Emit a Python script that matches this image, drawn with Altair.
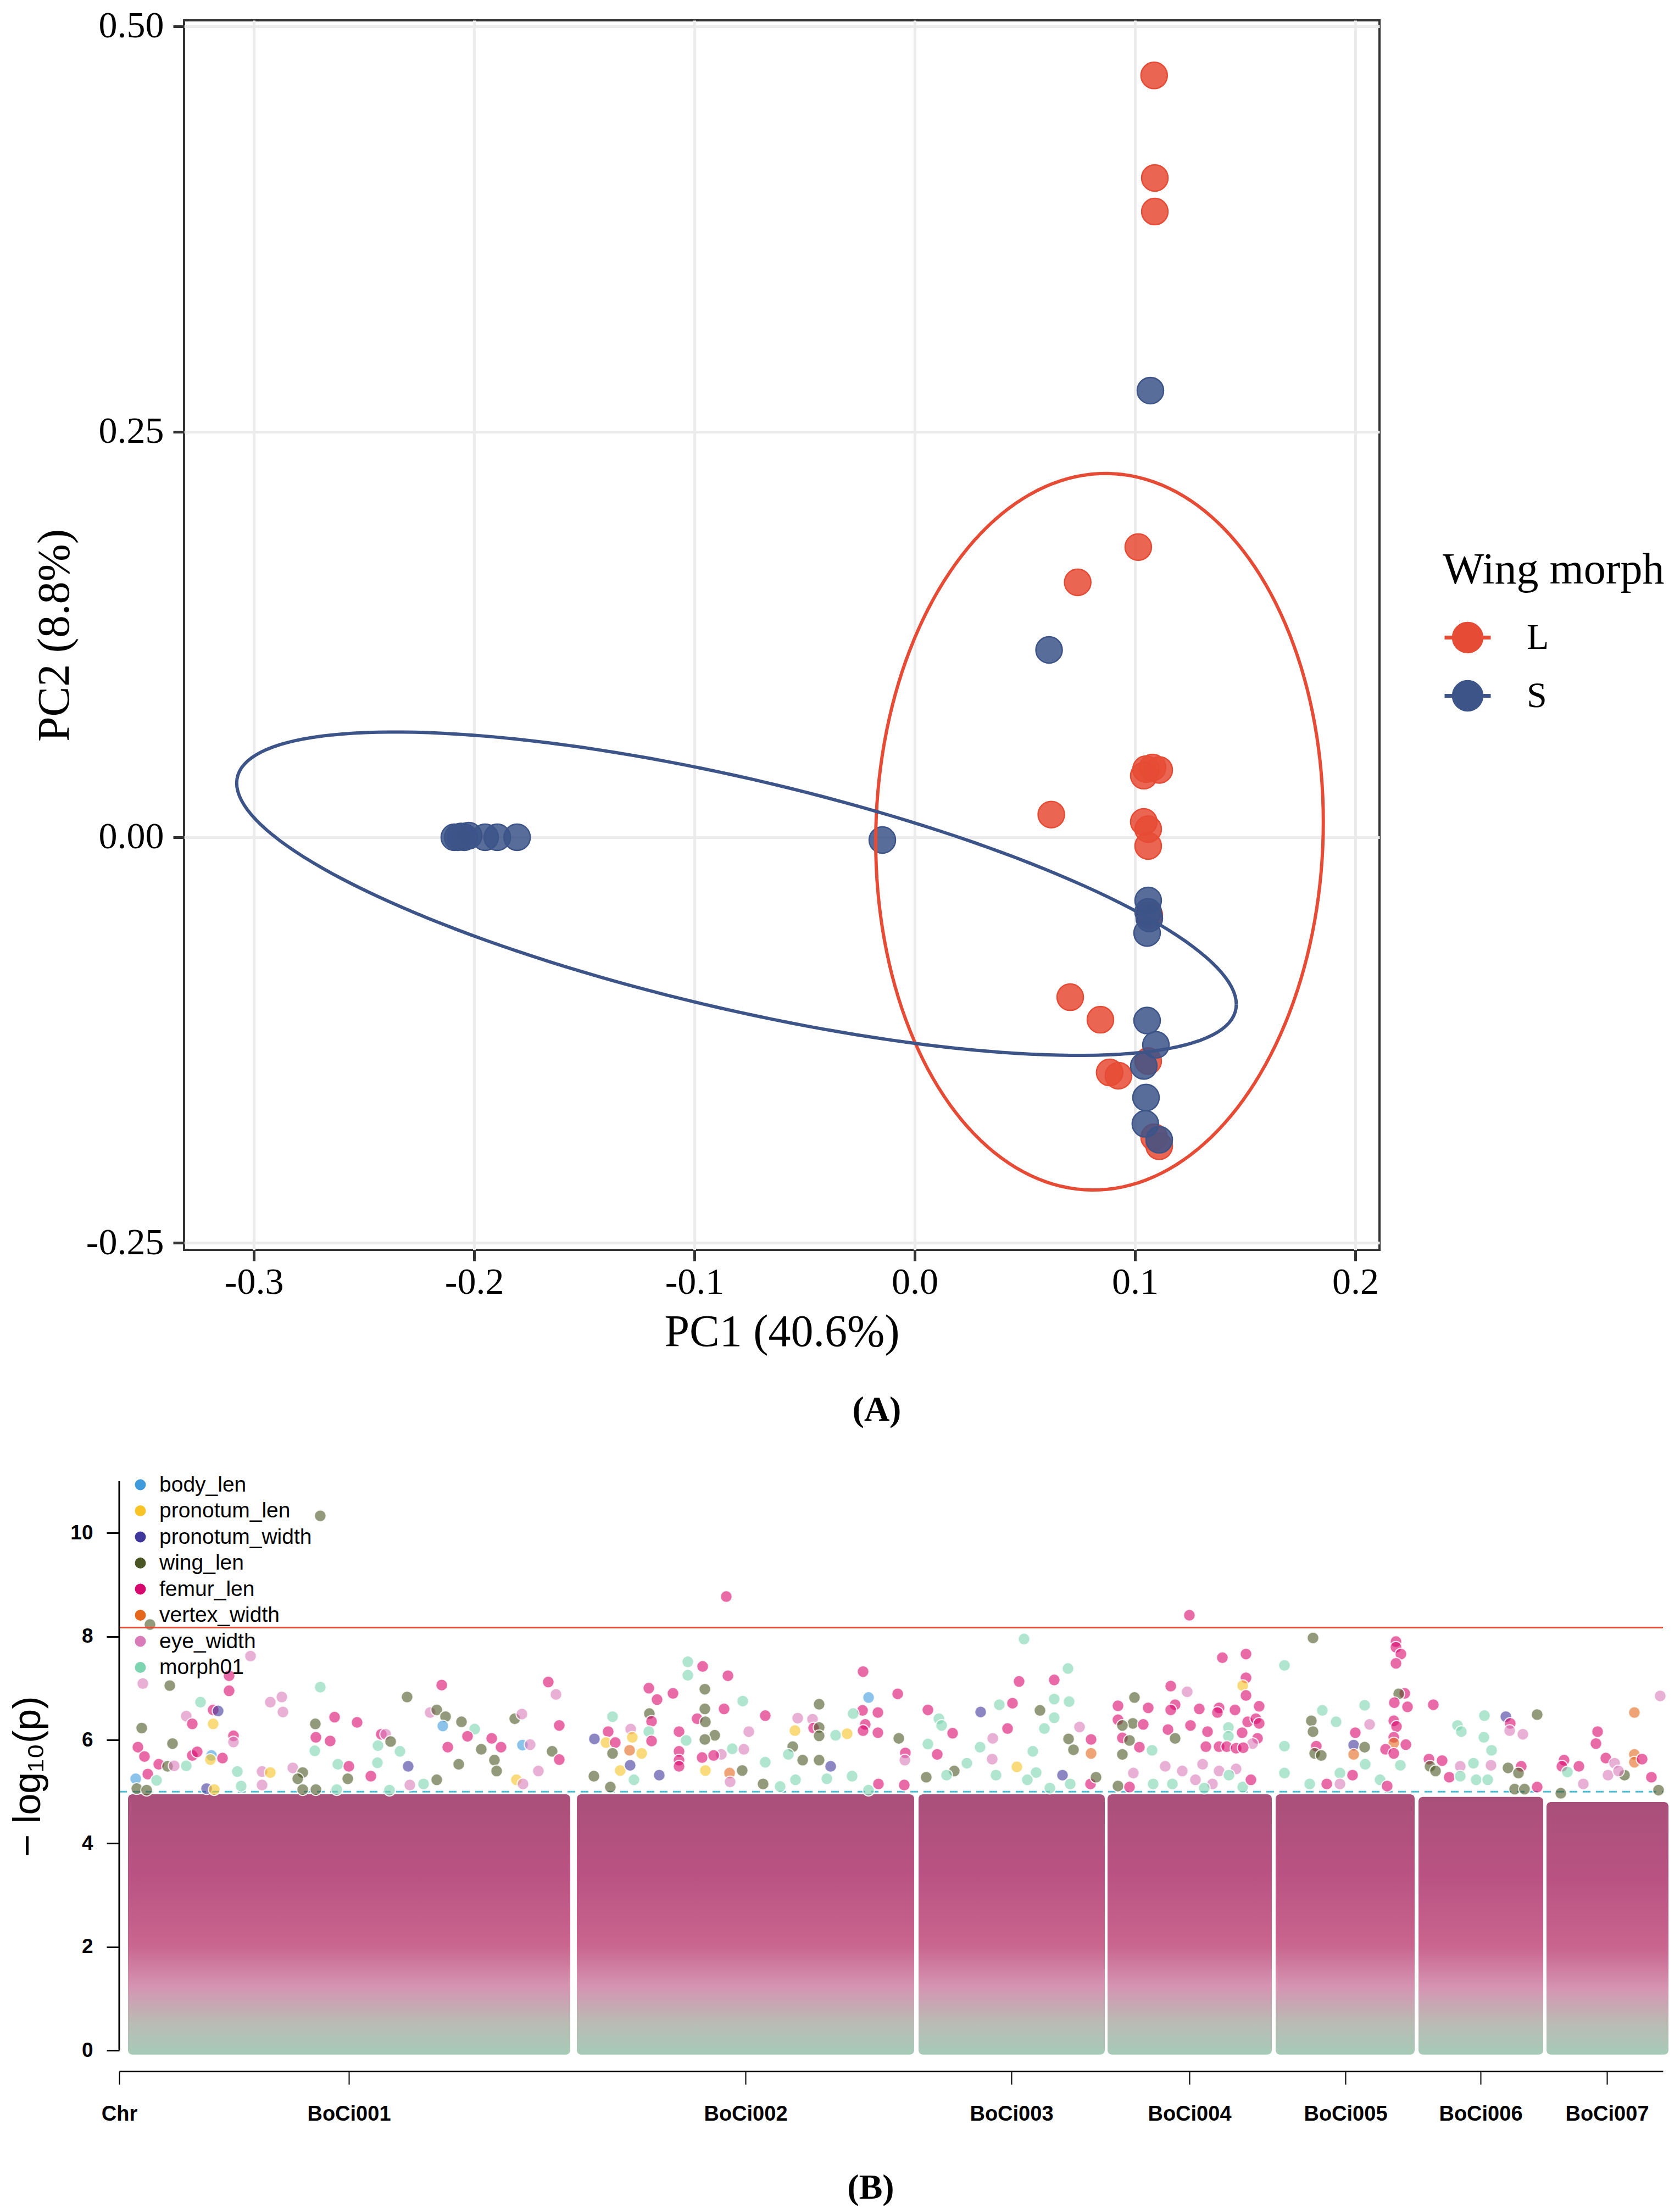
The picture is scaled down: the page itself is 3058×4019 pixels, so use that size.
import numpy as np
import pandas as pd
import altair as alt

SERIF = "Liberation Serif"
SANS = "Liberation Sans"

# ---------------- panel A : PCA ----------------
morph_levels = ["L", "S"]
morph_colors = ["#E64B35", "#3C5488"]

L_pc1 = [0.1087, 0.109, 0.109, 0.1015, 0.074, 0.104, 0.105, 0.108, 0.111, 0.062, 0.104,
         0.106, 0.106, 0.1065, 0.0706, 0.0843, 0.106, 0.0885, 0.0925, 0.1087, 0.111]
L_pc2 = [0.4697, 0.4065, 0.3858, 0.1789, 0.1572, 0.038, 0.042, 0.043, 0.0415, 0.014, 0.0095,
         0.005, -0.0054, -0.048, -0.0986, -0.1125, -0.138, -0.145, -0.147, -0.185, -0.1905]
S_pc1 = [0.107, 0.061, -0.0147, -0.209, -0.2075, -0.206, -0.2045, -0.2025, -0.195, -0.1895,
         -0.1805, 0.106, 0.106, 0.1065, 0.1055, 0.1055, 0.1095, 0.104, 0.105, 0.1047, 0.111]
S_pc2 = [0.2754, 0.1155, -0.0017, 0.0, 0.0, 0.0005, 0.0, 0.001, 0.0, 0.0, 0.0, -0.039,
         -0.046, -0.05, -0.059, -0.113, -0.128, -0.141, -0.1605, -0.1767, -0.1865]

# ellipse outlines: centre, half range in x / y,
# and the y shift at the rightmost point (this gives the tilt)
ell_cx = [0.0839, -0.0809]
ell_cy = [0.0034, -0.0348]
ell_rx = [0.1016, 0.2269]
ell_ry = [0.2209, 0.0997]
ell_ky = [0.0061, -0.0682]

pca_df = pd.DataFrame({
    "pc1": L_pc1 + S_pc1,
    "pc2": L_pc2 + S_pc2,
    "morph": ["L"] * len(L_pc1) + ["S"] * len(S_pc1),
})

t = np.linspace(0, 2 * np.pi, 181)
rows = []
for m, cx, cy, rx, ry, ky in zip(morph_levels, ell_cx, ell_cy, ell_rx, ell_ry, ell_ky):
    for i, a in enumerate(t):
        rows.append({
            "morph": m,
            "idx": i,
            "pc1": cx + rx * np.cos(a),
            "pc2": cy + ky * np.cos(a) + np.sqrt(ry ** 2 - ky ** 2) * np.sin(a),
        })
ell_df = pd.DataFrame(rows)

minus_fix = "replace(datum.label, '\u2212', '-')"

pca_x = alt.X(
    "pc1:Q",
    scale=alt.Scale(domain=[-0.3317, 0.211], nice=False, zero=False),
    axis=alt.Axis(
        title="PC1 (40.6%)",
        values=[-0.3, -0.2, -0.1, 0.0, 0.1, 0.2],
        format=".1f",
        labelExpr=minus_fix,
        labelFont=SERIF, labelFontSize=68, labelColor="black", labelPadding=5,
        titleFont=SERIF, titleFontSize=82, titleFontWeight="normal",
        titleColor="black", titlePadding=16,
        tickSize=20, tickWidth=5, tickColor="#333333",
        domain=False, grid=True, gridColor="#EBEBEB", gridWidth=5,
        labelFlush=False, labelOverlap=False,
    ),
)
pca_y = alt.Y(
    "pc2:Q",
    scale=alt.Scale(domain=[-0.2544, 0.5037], nice=False, zero=False),
    axis=alt.Axis(
        title="PC2 (8.8%)",
        values=[-0.25, 0.0, 0.25, 0.5],
        format=".2f",
        labelExpr=minus_fix,
        labelFont=SERIF, labelFontSize=68, labelColor="black", labelPadding=17,
        titleFont=SERIF, titleFontSize=82, titleFontWeight="normal",
        titleColor="black", titlePadding=15,
        tickSize=20, tickWidth=5, tickColor="#333333",
        domain=False, grid=True, gridColor="#EBEBEB", gridWidth=5,
        labelFlush=False, labelOverlap=False,
    ),
)

key_path = "M-1,0L1,0M0.6,0A0.6,0.6,0,1,1,-0.6,0A0.6,0.6,0,1,1,0.6,0Z"
legend_pca = alt.Legend(
    title="Wing morph", orient="none", legendX=2291, legendY=962,
    titleFont=SERIF, titleFontSize=80, titleFontWeight="normal", titleColor="black",
    titleLimit=2000, labelLimit=1000,
    labelFont=SERIF, labelFontSize=66, labelColor="black",
    symbolType=key_path, symbolSize=7056, symbolStrokeWidth=7,
    rowPadding=21, titlePadding=36, labelOffset=62, padding=0,
)
morph_scale = alt.Scale(domain=morph_levels, range=morph_colors)

pca_points = alt.Chart(pca_df).mark_point(
    filled=True, size=2304, opacity=1, fillOpacity=0.85, strokeWidth=2.5
).encode(
    x=pca_x,
    y=pca_y,
    fill=alt.Fill("morph:N", scale=morph_scale, legend=legend_pca),
    stroke=alt.Stroke("morph:N", scale=morph_scale, legend=legend_pca),
)

pca_ell = alt.Chart(ell_df).mark_line(strokeWidth=6).encode(
    x=pca_x,
    y=pca_y,
    color=alt.Color("morph:N", scale=morph_scale, legend=None),
    detail="morph:N",
    order="idx:Q",
)

pca = alt.layer(pca_points, pca_ell).properties(
    width=2176,
    height=2238,
    view=alt.ViewBackground(stroke="#333333", strokeWidth=4),
    title=alt.TitleParams(
        "(A)", orient="bottom", anchor="middle", dx=173, offset=70,
        font=SERIF, fontSize=64, fontWeight="bold", color="black",
    ),
)


def spacer(w):
    # empty strip that only moves the panel next to it to the right
    return alt.Chart(pd.DataFrame({"v": [0]})).mark_point(opacity=0, size=0).encode(
        x=alt.value(0), y=alt.value(0)
    ).properties(width=w, height=10)


# ---------------- panel B : Manhattan ----------------
trait_names = ["body_len", "pronotum_len", "pronotum_width", "wing_len",
               "femur_len", "vertex_width", "eye_width", "morph01"]
trait_codes = ["B", "PL", "PW", "W", "F", "V", "E", "M"]
trait_colors = ["#3F9BDC", "#F7C325", "#40379A", "#4B5523",
                "#D8096E", "#E5671C", "#D97BB9", "#7CD4B0"]

chr_names = ["BoCi001", "BoCi002", "BoCi003", "BoCi004", "BoCi005", "BoCi006", "BoCi007"]
chr_start = [8, 416.5, 727.5, 899.5, 1052.5, 1182.5, 1299]
chr_end = [410.5, 723.5, 897, 1049, 1179, 1296, 1410]
# upper edge of the dense (non significant) cloud of SNPs on each chromosome
band_top = [4.95, 4.95, 4.95, 4.95, 4.95, 4.9, 4.8]

suggestive_line = 5.0
genomewide_line = 8.17

# SNPs standing out above the cloud: (position, -log10 p, trait)
chr1_snps = [
    (183, 10.33, "W"), (28, 8.23, "W"), (119.5, 7.62, "E"), (21.5, 7.09, "E"), (46, 7.05, "W"),
    (100, 7.24, "F"), (100, 6.95, "F"), (183, 7.02, "M"), (74, 6.73, "M"), (137.5, 6.73, "E"),
    (148, 6.83, "E"), (149, 6.54, "E"), (85.5, 6.58, "F"), (90, 6.56, "PW"), (61, 6.46, "E"),
    (66.5, 6.31, "F"), (85.5, 6.31, "PL"), (20.5, 6.23, "W"), (178.5, 6.31, "W"), (196, 6.44, "F"),
    (216.5, 6.34, "F"), (104, 6.08, "F"), (104, 5.96, "E"), (48.5, 5.93, "W"), (17, 5.86, "F"),
    (23, 5.68, "F"), (179, 6.05, "F"), (192, 5.98, "F"), (178, 5.79, "M"), (66.5, 5.70, "F"),
    (71, 5.77, "F"), (84, 5.70, "B"), (83, 5.62, "PL"), (94, 5.65, "F"), (235.5, 5.89, "M"),
    (235, 5.56, "M"), (199, 5.53, "M"), (209, 5.49, "F"), (36, 5.53, "F"), (44, 5.49, "W"),
    (61, 5.50, "M"), (50, 5.50, "E"), (107.5, 5.39, "M"), (130, 5.39, "E"), (137.5, 5.37, "PL"),
    (158, 5.46, "E"), (167, 5.37, "W"), (26, 5.34, "F"), (162.5, 5.25, "W"), (208, 5.25, "W"),
    (229, 5.30, "F"), (15, 5.25, "B"), (34, 5.22, "M"), (16, 5.06, "W"), (25, 5.03, "W"),
    (79.5, 5.06, "PW"), (111, 5.11, "M"), (130, 5.13, "E"), (167, 5.04, "W"), (198, 5.04, "M"),
    (179, 5.04, "W"), (86.5, 5.04, "PL"),
    (262, 6.83, "W"), (293.5, 7.06, "F"), (390.5, 7.12, "F"), (397.5, 6.88, "E"), (283, 6.53, "E"),
    (289, 6.58, "W"), (297, 6.45, "W"), (294.5, 6.27, "B"), (311.5, 6.35, "W"), (323.5, 6.21, "M"),
    (360, 6.41, "W"), (366.5, 6.50, "E"), (400.5, 6.28, "F"), (317, 6.07, "F"), (339, 6.03, "F"),
    (238.5, 6.11, "F"), (242.5, 6.11, "E"), (247, 5.97, "W"), (255.5, 5.78, "M"), (299, 5.86, "F"),
    (329.5, 5.82, "W"), (347.5, 5.86, "F"), (367, 5.90, "B"), (374, 5.91, "E"), (394, 5.78, "W"),
    (400.5, 5.62, "F"), (263, 5.49, "PW"), (309, 5.53, "W"), (289, 5.23, "W"), (264.5, 5.13, "E"),
    (277, 5.15, "M"), (246, 5.03, "M"), (341.5, 5.61, "W"), (343.5, 5.40, "W"), (361.5, 5.23, "PL"),
    (381.5, 5.40, "E"), (367.5, 5.15, "E"),
]
chr2_snps = [
    (552.5, 8.77, "F"), (517.5, 7.51, "M"), (531, 7.42, "F"), (517.5, 7.25, "M"), (554, 7.24, "F"),
    (482, 7.00, "F"), (533, 6.98, "W"), (489.5, 6.78, "F"), (504, 6.90, "F"), (567.5, 6.75, "M"),
    (550.5, 6.60, "F"), (533, 6.60, "W"), (482.5, 6.51, "W"), (484.5, 6.36, "F"), (449, 6.45, "M"),
    (526, 6.41, "F"), (533.5, 6.35, "W"), (588, 6.47, "F"), (573, 6.16, "E"), (482, 6.16, "M"),
    (445, 6.16, "F"), (465.5, 6.21, "E"), (509.5, 6.16, "F"), (542, 6.09, "W"), (484.5, 5.98, "F"),
    (516, 5.99, "M"), (533, 6.01, "W"), (432.5, 6.02, "PW"), (443, 5.95, "PL"), (451.5, 5.95, "F"),
    (467, 6.05, "PL"), (509.5, 5.78, "F"), (509.5, 5.61, "F"), (509.5, 5.49, "F"), (530.5, 5.66, "F"),
    (558, 5.83, "M"), (568.5, 5.82, "E"), (464.5, 5.80, "V"), (449, 5.74, "W"), (475.5, 5.74, "PL"),
    (548, 5.72, "E"), (541, 5.70, "F"), (567, 5.41, "W"), (456, 5.41, "PL"), (465, 5.51, "PW"),
    (555.5, 5.36, "V"), (491.5, 5.32, "PW"), (533.5, 5.41, "PL"), (588, 5.57, "M"), (432, 5.30, "W"),
    (447, 5.09, "W"), (468.5, 5.23, "M"), (556, 5.19, "E"), (586, 5.15, "W"),
    (677, 7.32, "F"), (708.5, 6.89, "F"), (682, 6.82, "B"), (637, 6.69, "W"), (676.5, 6.57, "F"),
    (690.5, 6.53, "F"), (668, 6.51, "M"), (617.5, 6.42, "E"), (631, 6.40, "E"), (632, 6.23, "F"),
    (637, 6.24, "W"), (615, 6.18, "PL"), (637, 6.08, "W"), (679, 6.30, "F"), (677, 6.18, "F"),
    (690.5, 6.14, "F"), (652, 6.09, "M"), (662.5, 6.12, "PL"), (709.5, 6.03, "W"), (613, 5.87, "W"),
    (715.5, 5.75, "F"), (715, 5.61, "E"), (609, 5.72, "M"), (637, 5.61, "W"), (622, 5.61, "W"),
    (647.5, 5.49, "PW"), (601.5, 5.10, "M"), (615.5, 5.23, "M"), (644, 5.25, "M"), (667, 5.30, "M"),
    (682, 5.03, "M"), (691, 5.15, "F"), (714.5, 5.13, "F"),
]
chr3_snps = [
    (823.5, 7.95, "M"), (863.5, 7.38, "M"), (819, 7.13, "F"), (851, 7.16, "F"), (736, 6.58, "F"),
    (801, 6.68, "M"), (813, 6.71, "F"), (784, 6.54, "PW"), (838, 6.57, "W"), (851, 6.79, "M"),
    (864.5, 6.74, "M"), (746, 6.41, "M"), (748.5, 6.28, "M"), (758.5, 6.13, "F"), (808.5, 6.22, "F"),
    (874, 6.25, "E"), (851, 6.43, "M"), (842, 6.22, "M"), (795, 6.03, "E"), (884.5, 6.01, "F"),
    (736, 5.92, "M"), (744.5, 5.72, "F"), (864, 6.02, "W"), (868.5, 5.81, "W"), (783.5, 5.86, "M"),
    (831.5, 5.78, "M"), (884.5, 5.74, "V"), (794.5, 5.63, "E"), (817, 5.48, "PL"), (834.5, 5.37, "M"),
    (858.5, 5.32, "PW"), (760, 5.40, "W"), (734.5, 5.28, "W"), (753, 5.32, "M"), (771.5, 5.55, "M"),
    (798, 5.32, "M"), (826.5, 5.23, "M"), (847, 5.07, "M"), (865.5, 5.15, "M"), (884, 5.15, "F"),
    (889, 5.28, "W"),
]
chr4_snps = [
    (924, 6.82, "W"), (909, 6.66, "F"), (936.5, 6.62, "F"), (909, 6.39, "F"), (922.5, 6.32, "W"),
    (932, 6.30, "F"), (913, 6.04, "F"), (913, 6.28, "W"), (919.5, 5.99, "W"), (928.5, 5.86, "F"),
    (940, 5.80, "M"), (913, 5.72, "W"), (941, 5.15, "M"), (923, 5.36, "E"), (909, 5.11, "W"),
    (919.5, 5.09, "F"),
    (974, 8.41, "F"), (1004, 7.59, "F"), (1025.5, 7.66, "F"), (1025.5, 7.20, "F"), (1022.5, 7.05, "PL"),
    (1025.5, 6.86, "F"), (957, 7.04, "F"), (972, 6.93, "E"), (961, 6.68, "F"), (957, 6.58, "F"),
    (983, 6.60, "F"), (1001, 6.62, "F"), (999.5, 6.53, "F"), (1015.5, 6.58, "F"), (1037.5, 6.65, "F"),
    (1027, 6.35, "F"), (1034.5, 6.41, "F"), (1037.5, 6.32, "F"), (975, 6.28, "F"), (954.5, 6.20, "F"),
    (1009.5, 6.24, "M"), (1009.5, 6.07, "M"), (990.5, 6.16, "F"), (1022, 6.14, "F"), (961, 6.03, "W"),
    (1036, 6.03, "F"), (1031.5, 5.93, "E"), (989, 5.87, "F"), (1001, 5.87, "F"), (1008, 5.87, "F"),
    (1016.5, 5.84, "F"), (1023, 5.85, "F"), (952, 5.49, "E"), (967.5, 5.40, "E"), (986, 5.53, "E"),
    (1001, 5.40, "E"), (1016.5, 5.44, "E"), (979.5, 5.23, "E"), (995, 5.15, "E"), (1010, 5.32, "M"),
    (958.5, 5.15, "M"), (987.5, 5.07, "M"), (1022.5, 5.09, "M"), (1030, 5.23, "F"),
]
chr5_snps = [
    (1086.5, 7.97, "W"), (1162, 7.90, "F"), (1162, 7.79, "F"), (1166.5, 7.66, "F"), (1162, 7.48, "F"),
    (1060.5, 7.44, "M"), (1170, 6.90, "F"), (1164.5, 6.89, "W"), (1160.5, 6.72, "F"), (1172.5, 6.64, "F"),
    (1133.5, 6.67, "M"), (1095, 6.57, "M"), (1085, 6.37, "W"), (1107.5, 6.35, "M"), (1160, 6.37, "F"),
    (1162.5, 6.26, "F"), (1086.5, 6.16, "W"), (1125, 6.14, "F"), (1138, 6.30, "E"), (1160, 6.05, "F"),
    (1171, 5.91, "F"), (1060.5, 5.88, "M"), (1089.5, 5.88, "F"), (1123.5, 5.90, "PW"), (1133.5, 5.86, "W"),
    (1123.5, 5.72, "V"), (1160, 5.94, "V"), (1152.5, 5.82, "F"), (1160, 5.74, "F"), (1088, 5.74, "W"),
    (1094, 5.70, "W"), (1122.5, 5.32, "F"), (1060.5, 5.36, "M"), (1083.5, 5.15, "M"), (1099, 5.15, "F"),
    (1111, 5.36, "M"), (1134, 5.53, "M"), (1147.5, 5.23, "M"), (1166, 5.51, "M"), (1154, 5.11, "F"),
    (1111, 5.15, "E"),
]
chr6_snps = [
    (1196, 6.68, "F"), (1290.5, 6.49, "W"), (1242.5, 6.47, "M"), (1262, 6.45, "PW"), (1266, 6.32, "F"),
    (1218, 6.28, "M"), (1277.5, 6.11, "E"), (1265.5, 6.18, "E"), (1221.5, 6.16, "M"), (1242, 6.05, "M"),
    (1249, 5.80, "M"), (1192, 5.63, "F"), (1204, 5.60, "F"), (1193, 5.49, "W"), (1198, 5.40, "W"),
    (1220.5, 5.49, "E"), (1232.5, 5.55, "M"), (1248.5, 5.51, "E"), (1264, 5.46, "W"), (1276, 5.49, "F"),
    (1273.5, 5.36, "W"), (1290.5, 5.09, "F"), (1270, 5.05, "W"), (1279, 5.05, "W"), (1210.5, 5.28, "F"),
    (1220.5, 5.30, "M"), (1235, 5.23, "M"), (1245.5, 5.23, "M"),
]
chr7_snps = [
    (1402.5, 6.85, "E"), (1379, 6.53, "V"), (1345.5, 6.16, "F"), (1344, 5.93, "F"), (1379, 5.72, "V"),
    (1379, 5.57, "V"), (1386, 5.63, "F"), (1353, 5.65, "F"), (1361, 5.55, "E"), (1315, 5.61, "F"),
    (1313, 5.49, "F"), (1328.5, 5.49, "F"), (1318, 5.38, "M"), (1370, 5.32, "W"), (1394.5, 5.28, "F"),
    (1355, 5.32, "E"), (1332.5, 5.15, "E"), (1401, 5.03, "W"), (1312, 4.97, "W"), (1364.5, 5.40, "E"),
]

code_to_trait = dict(zip(trait_codes, trait_names))
all_snps = chr1_snps + chr2_snps + chr3_snps + chr4_snps + chr5_snps + chr6_snps + chr7_snps
snp_df = pd.DataFrame({
    "pos": [s[0] for s in all_snps],
    "logp": [s[1] for s in all_snps],
    "trait": [code_to_trait[s[2]] for s in all_snps],
})

band_df = pd.DataFrame({
    "pos": chr_start,
    "end": chr_end,
    "logp": [-0.08] * len(chr_start),
    "top": band_top,
})

chr_mid = [int(round((a + b) / 2)) for a, b in zip(chr_start, chr_end)]
tick_vals = [0] + chr_mid
label_expr = "datum.value == 0 ? 'Chr' : " + " : ".join(
    f"datum.value == {m} ? '{n}'" for m, n in zip(chr_mid, chr_names)
) + " : ''"

mh_x = alt.X(
    "pos:Q",
    scale=alt.Scale(domain=[0, 1405], nice=False, zero=False),
    axis=alt.Axis(
        title=None, values=tick_vals, labelExpr=label_expr,
        labelFont=SANS, labelFontSize=38, labelFontWeight="bold", labelColor="black",
        labelPadding=35, labelFlush=False, labelOverlap=False,
        tickSize=24, tickWidth=2, tickColor="black",
        domain=True, domainColor="black", domainWidth=3, grid=False,
    ),
)
mh_y = alt.Y(
    "logp:Q",
    scale=alt.Scale(domain=[-0.4, 11], nice=False, zero=False),
    axis=alt.Axis(
        title="\u2212 log\u2081\u2080(p)", values=[0, 2, 4, 6, 8, 10], format="d",
        labelFont=SANS, labelFontSize=37, labelFontWeight="bold", labelColor="black",
        labelPadding=25, labelOverlap=False, labelFlush=False,
        titleFont=SANS, titleFontSize=70, titleFontWeight="normal", titleColor="black",
        titlePadding=40,
        tickSize=23, tickWidth=3, tickColor="black",
        domain=False, grid=False,
    ),
)

band_fill = alt.Gradient(
    gradient="linear", x1=0, x2=0, y1=1, y2=0,
    stops=[
        alt.GradientStop(offset=0.0, color="#A6CBB7"),
        alt.GradientStop(offset=0.12, color="#B9BBB4"),
        alt.GradientStop(offset=0.26, color="#D595B2"),
        alt.GradientStop(offset=0.42, color="#C9658F"),
        alt.GradientStop(offset=0.7, color="#B95282"),
        alt.GradientStop(offset=1.0, color="#A9507A"),
    ],
)

band = alt.Chart(band_df).mark_rect(color=band_fill, cornerRadius=8, clip=False).encode(
    x=mh_x, x2="end:Q", y=mh_y, y2="top:Q"
)

line_df = pd.DataFrame({"logp": [suggestive_line], "genome": [genomewide_line]})

dash = alt.Chart(line_df).mark_rule(color="#4DBBD5", strokeWidth=3, strokeDash=[14, 10]).encode(
    y="logp:Q", x=alt.datum(0), x2=alt.datum(1405)
)
genome = alt.Chart(line_df).mark_rule(color="#E64B35", strokeWidth=3).encode(
    y="genome:Q", x=alt.datum(0), x2=alt.datum(1405)
)

legend_mh = alt.Legend(
    title=None, orient="none", legendX=19, legendY=-13,
    symbolType="circle", symbolSize=400, symbolOpacity=1, symbolStrokeWidth=0,
    labelFont=SANS, labelFontSize=39, labelColor="black", labelLimit=1000,
    rowPadding=7.5, labelOffset=15, padding=0,
)

snps = alt.Chart(snp_df).mark_circle(
    size=460, opacity=1, fillOpacity=0.6, stroke="white", strokeWidth=2, strokeOpacity=0.85
).encode(
    x=mh_x,
    y=mh_y,
    color=alt.Color("trait:N", scale=alt.Scale(domain=trait_names, range=trait_colors),
                    legend=legend_mh),
)

y_line = alt.Chart(pd.DataFrame({"v": [0]})).mark_rule(color="black", strokeWidth=3).encode(
    x=alt.datum(0), y=alt.datum(0), y2=alt.datum(11)
)

manhattan = alt.layer(band, dash, snps, genome, y_line).properties(
    width=2810,
    height=1074,
    title=alt.TitleParams(
        "(B)", orient="bottom", anchor="middle", dx=-37, offset=84,
        font=SERIF, fontSize=64, fontWeight="bold", color="black",
    ),
)

indep = dict(fill="independent", stroke="independent", color="independent")
top_row = alt.hconcat(spacer(42), pca, spacing=0).resolve_scale(**indep).resolve_legend(**indep)
bottom_row = alt.hconcat(spacer(2), manhattan, spacing=0).resolve_scale(**indep).resolve_legend(**indep)

chart = alt.vconcat(top_row, bottom_row, spacing=82).resolve_scale(
    x="independent", y="independent", **indep
).resolve_legend(**indep).properties(
    padding={"left": 6, "top": 3, "right": 0, "bottom": 0},
    background="white",
).configure_view(stroke=None)

chart.save("out.html", embed_options={"renderer": "svg", "actions": False})
